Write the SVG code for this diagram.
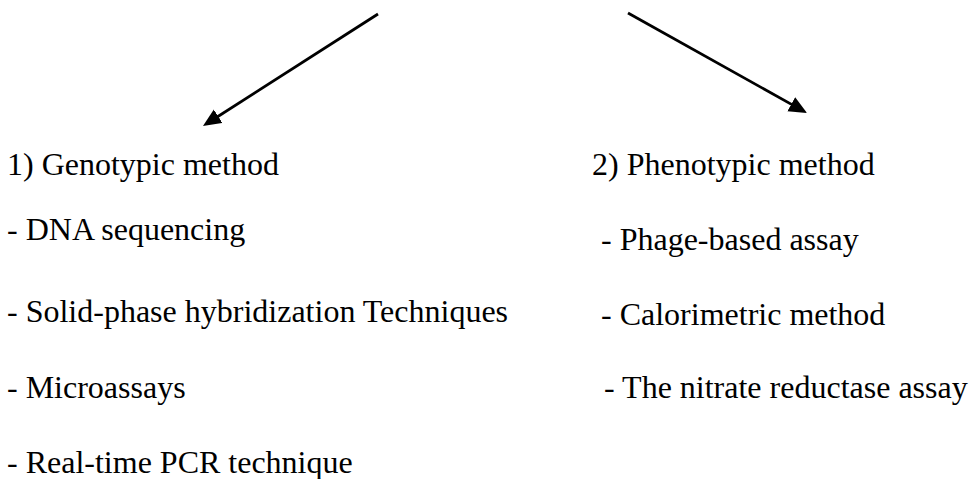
<svg xmlns="http://www.w3.org/2000/svg" width="970" height="479" viewBox="0 0 970 479">
  <style>
    .t { font-family: 'Liberation Serif', 'Times New Roman', 'DejaVu Serif', serif; font-size: 32px; fill: #000; }
    .conn { stroke: #000; stroke-width: 2.8; fill: none; marker-end: url(#ah); }
  </style>
  <defs>
    <marker id="ah" markerUnits="userSpaceOnUse" markerWidth="22" markerHeight="18" refX="10" refY="8" orient="auto">
      <path d="M0,0 L18,8 L0,16 z" fill="#000"/>
    </marker>
  </defs>
  <rect width="970" height="479" fill="#fff"/>
  <g id="connectors">
    <line class="conn" x1="378" y1="14" x2="209.7" y2="121.7"/>
    <line class="conn" x1="628" y1="13" x2="800" y2="109.1"/>
  </g>
  <g id="genotypic" class="t" font-family="Liberation Serif, Times New Roman, serif" font-size="32">
    <text x="7" y="175">1) Genotypic method</text>
    <text x="7" y="240">- DNA sequencing</text>
    <text x="7" y="322">- Solid-phase hybridization Techniques</text>
    <text x="7" y="398">- Microassays</text>
    <text x="7" y="473">- Real-time PCR technique</text>
  </g>
  <g id="phenotypic" class="t" font-family="Liberation Serif, Times New Roman, serif" font-size="32">
    <text x="592" y="175">2) Phenotypic method</text>
    <text x="601" y="250">- Phage-based assay</text>
    <text x="601" y="325">- Calorimetric method</text>
    <text x="604" y="398">- The nitrate reductase assay</text>
  </g>
</svg>
